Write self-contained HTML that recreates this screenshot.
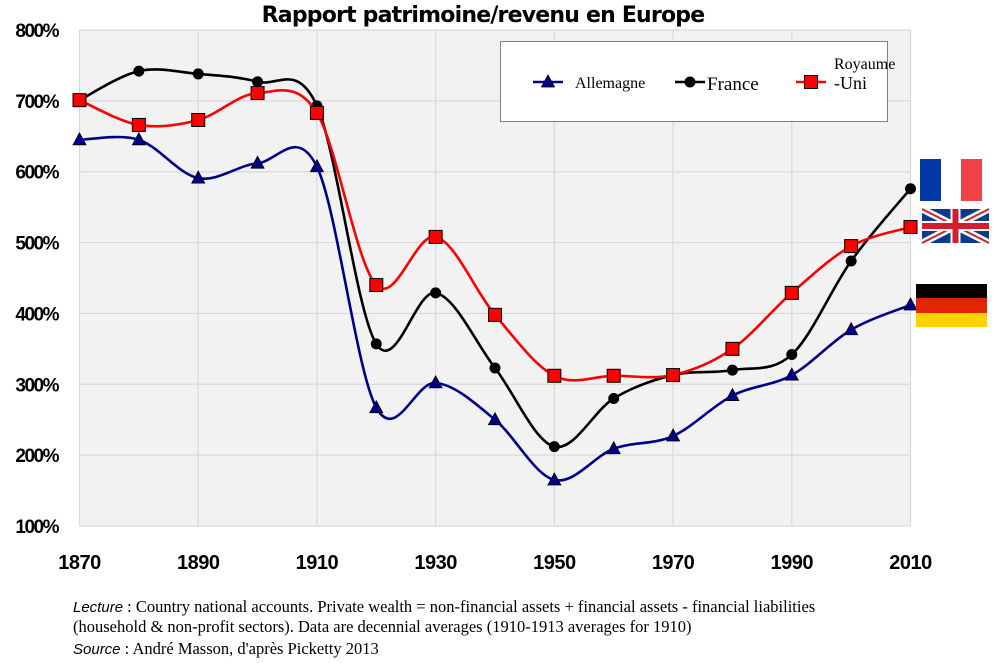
<!DOCTYPE html>
<html><head><meta charset="utf-8"><style>
body{margin:0;background:#fff;width:995px;height:663px;overflow:hidden;font-family:"Liberation Sans",sans-serif}
svg{position:absolute;left:0;top:0}
.note{position:absolute;left:73px;font-family:"Liberation Serif",serif;font-size:16.5px;color:#000;line-height:19px}
</style></head><body>
<svg id="chart" width="995" height="663"></svg>
<div class="note" style="top:597px"><i style="font-family:'Liberation Sans';font-size:15px">Lecture</i> : Country national accounts. Private wealth = non-financial assets + financial assets - financial liabilities<br>(household &amp; non-profit sectors). Data are decennial averages (1910-1913 averages for 1910)</div>
<div class="note" style="top:639px"><i style="font-family:'Liberation Sans';font-size:15px">Source</i> :  André Masson, d'après Picketty 2013</div>
<script>
const years=[1870,1880,1890,1900,1910,1920,1930,1940,1950,1960,1970,1980,1990,2000,2010];
const allemagne=[645,645,591,612,607,267,302,250,165,209,227,284,313,377,412];
const france=[701,742,738,727,693,357,429,323,212,280,313,320,342,474,576];
const royaumeUni=[701,666,673,711,683,440,508,398,312,312,313,350,429,495,522];
const yTicks=[100,200,300,400,500,600,700,800];
const xTicks=[1870,1890,1910,1930,1950,1970,1990,2010];
const NS="http://www.w3.org/2000/svg";
const svg=document.getElementById('chart');
const X=y=>79.5+(y-1870)*(910.5-79.5)/140;
const Y=v=>526-(v-100)*(526-30)/700;
function mk(t,a,p){const e=document.createElementNS(NS,t);for(const k in a)e.setAttribute(k,a[k]);(p||svg).appendChild(e);return e;}
const bg=mk('rect',{x:79.5,y:30,width:831,height:496,fill:'#f2f2f2'});


yTicks.forEach(v=>{
 const l=mk('line',{x1:79.5,x2:910.5,y1:Y(v),y2:Y(v),stroke:'#d9d9d9','stroke-width':1.2});
 
 
 const t=mk('text',{x:58,y:Y(v)+7,'text-anchor':'end','font-size':19,'font-weight':'bold','letter-spacing':'-1.5'});
 t.textContent=v+'%';
 
 
});
xTicks.forEach(yr=>{
 const l=mk('line',{x1:X(yr),x2:X(yr),y1:30,y2:526,stroke:'#d9d9d9','stroke-width':1.2});
 
 
 const t=mk('text',{x:X(yr),y:569,'text-anchor':'middle','font-size':20,'font-weight':'bold','letter-spacing':'-0.5'});
 t.textContent=yr;
 
 
});
const title=mk('text',{x:483,y:22,'text-anchor':'middle','font-size':22,'font-weight':'bold','font-family':'"DejaVu Sans",sans-serif','letter-spacing':'-0.8'});
title.textContent='Rapport patrimoine/revenu en Europe';


function path(vals){
 const p=vals.map((v,i)=>[X(years[i]),Y(v)]);
 let d='M'+p[0][0]+','+p[0][1];
 for(let i=0;i<p.length-1;i++){
  const p0=p[i-1]||p[i],p1=p[i],p2=p[i+1],p3=p[i+2]||p[i+1];
  const c1=[p1[0]+(p2[0]-p0[0])/6,p1[1]+(p2[1]-p0[1])/6];
  const c2=[p2[0]-(p3[0]-p1[0])/6,p2[1]-(p3[1]-p1[1])/6];
  d+=` C${c1[0]},${c1[1]} ${c2[0]},${c2[1]} ${p2[0]},${p2[1]}`;
 }
 return d;
}
function marker(kind,x,y,g){
 if(kind==='tri') return mk('polygon',{points:`${x},${y-7} ${x-6.5},${y+5} ${x+6.5},${y+5}`,fill:'#00008b',stroke:'#000','stroke-width':0.8},g);
 if(kind==='circ') return mk('circle',{cx:x,cy:y,r:5.5,fill:'#000'},g);
 return mk('rect',{x:x-6.5,y:y-6.5,width:13,height:13,fill:'#ff0000',stroke:'#000','stroke-width':1},g);
}
const series=[[allemagne,'#00008b','tri','series-allemagne'],[france,'#000','circ','series-france'],[royaumeUni,'#ff0000','sq','series-royaume-uni']];
series.forEach(([vals,col,kind,name])=>{
 const g=mk('g',{});
 
 
 mk('path',{d:path(vals),fill:'none',stroke:col,'stroke-width':2.6},g);
 vals.forEach((v,i)=>{
  const m=marker(kind,X(years[i]),Y(v),g);
  
  
 });
});
const lg=mk('g',{});


mk('rect',{x:500.5,y:41.5,width:387,height:80,fill:'#fff',stroke:'#808080','stroke-width':1},lg);
[[533,'tri','#00008b','Allemagne',575,88,16],[675,'circ','#000','France',707,90,19],[796,'sq','#ff0000','',0,0,0]].forEach(([x,k,c,lab,tx,ty,fs])=>{
 const e=mk('g',{},lg);
 
 
 mk('line',{x1:x,x2:x+30,y1:82,y2:82,stroke:c,'stroke-width':2.6},e);
 marker(k,x+15,82,e);
 if(lab){const t=mk('text',{x:tx,y:ty,'font-size':fs,'font-family':'"Liberation Serif",serif'},e);t.textContent=lab;}
 else{const t=mk('text',{x:834,y:69,'font-size':16,'font-family':'"Liberation Serif",serif'},e);t.textContent='Royaume';
  const t2=mk('text',{x:834,y:89,'font-size':18,'font-family':'"Liberation Serif",serif'},e);t2.textContent='-Uni';}
});
const fr=mk('g',{});
mk('rect',{x:920,y:159,width:21,height:42,fill:'#0038a8'},fr);mk('rect',{x:941,y:159,width:20,height:42,fill:'#fff'},fr);mk('rect',{x:961,y:159,width:21,height:42,fill:'#ef4146'},fr);
const uk=mk('g',{});
mk('rect',{x:922,y:209,width:67,height:34,fill:'#0a3a8c'},uk);
mk('path',{d:'M922,209L989,243M989,209L922,243',stroke:'#fff','stroke-width':7},uk);
mk('path',{d:'M922,209L989,243M989,209L922,243',stroke:'#d0202e','stroke-width':2},uk);
mk('path',{d:'M955.5,209V243M922,226H989',stroke:'#fff','stroke-width':10},uk);
mk('path',{d:'M955.5,209V243M922,226H989',stroke:'#d0202e','stroke-width':6},uk);
const de=mk('g',{});
mk('rect',{x:916,y:284,width:71,height:14,fill:'#000'},de);mk('rect',{x:916,y:298,width:71,height:15,fill:'#e32400'},de);mk('rect',{x:916,y:313,width:71,height:14,fill:'#ffd200'},de);
</script>
</body></html>
